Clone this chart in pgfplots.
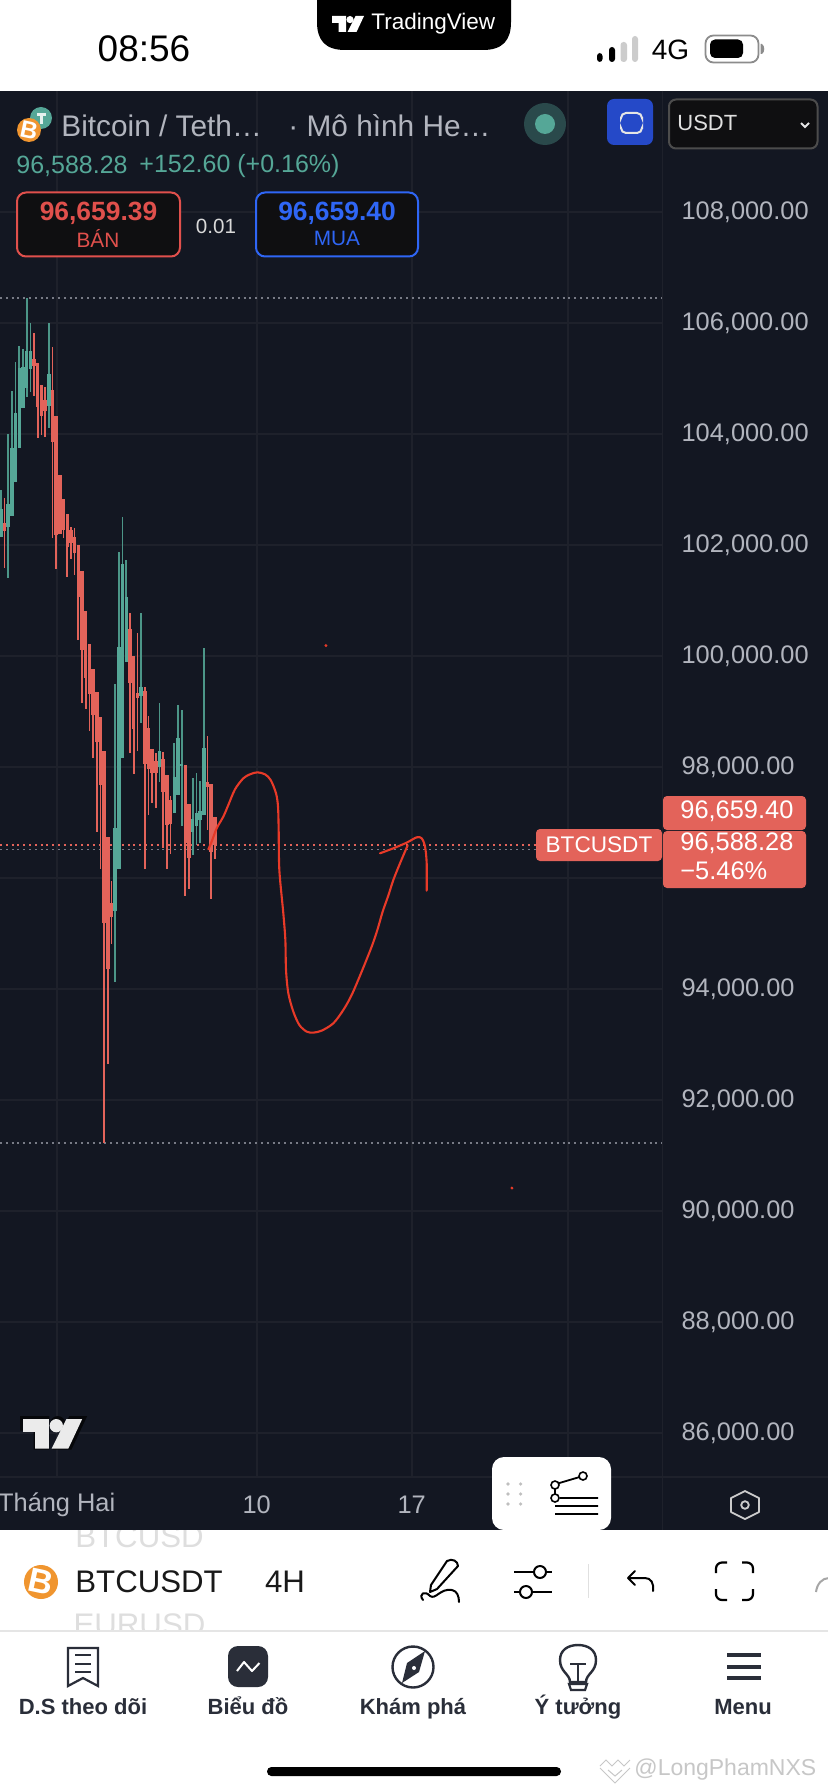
\documentclass[border=0pt]{standalone}
\usepackage{fontspec}
\setmainfont{Liberation Sans}
\usepackage{pgfplots}
\usepackage{pgfplotstable}
\pgfplotsset{compat=1.18}
\definecolor{bg}{HTML}{131722}
\definecolor{gridc}{HTML}{1E212B}
\definecolor{cgreen}{HTML}{55A797}
\definecolor{cred}{HTML}{E3635A}
\definecolor{scrib}{HTML}{E83A28}
\definecolor{axtxt}{HTML}{B2B5BE}
\definecolor{dotgrey}{HTML}{787B86}
\definecolor{ink}{HTML}{2A2E39}
\definecolor{boxbk}{HTML}{0F0F11}
\definecolor{sellc}{HTML}{E0504C}
\definecolor{buyc}{HTML}{2F66F5}
\definecolor{orangec}{HTML}{F0952F}
\definecolor{ghost}{HTML}{DEDEDE}
\definecolor{btnblue}{HTML}{2549C8}

% x = candle number (4H), prices in USDT
\pgfplotstableread{
x o h l c
0 102149 102996 102149 102654
2 102330 104005 101411 102744
3 102528 104780 102528 103753
4 103140 105303 103140 104384
5 103753 105591 103753 105194
6 104474 105537 104474 105212
7 104834 106461 104672 105501
8 105176 106005 104762 105501
13 104510 106005 104113 105086
31 95411 99501 94131 96906
32 96167 101879 96167 100167
33 98167 102510 98167 101663
34 99897 101735 99897 101068
38 99284 100780 98798 99447
43 98005 99158 97735 98293
47 97176 98438 97176 97825
48 97501 99122 97501 98528
49 98023 99032 96942 98059
52 96834 97807 96420 97068
53 96942 97897 96600 97176
54 97050 97753 96636 97212
55 97140 100149 97140 98348
}\upcandles
\pgfplotstableread{
x o h l c
1 102402 102852 101591 102258
9 105357 105825 104690 105230
10 105285 105285 103933 104492
11 104888 104888 103987 104330
12 104618 104852 103951 104420
14 104798 105573 102131 103861
15 104330 104330 101573 102185
16 103267 103267 102203 102203
17 102834 102834 102131 102276
18 102564 102564 101429 101969
19 102276 102330 101753 102041
20 102149 102312 101465 101861
21 102005 102005 100293 101068
22 101537 101537 99158 100113
23 100816 100816 99050 99609
24 100221 100221 98654 99321
25 99771 99771 98167 98942
26 99357 99357 96834 98456
27 98906 98906 96167 97681
28 98293 98293 91236 95194
29 96744 96744 92654 94366
30 95555 95951 94816 95302
35 100492 100780 98257 99519
36 100005 100005 97879 98690
37 99339 100420 98293 99249
39 99375 99447 96167 98059
40 98708 98924 97140 97969
41 98330 98330 97357 97897
42 98113 98257 97266 97897
44 98149 98275 96546 97555
45 97861 97861 96167 96960
46 97411 97483 96438 96978
50 98041 98041 95681 96636
51 97339 97339 95807 96366
56 97735 98564 96870 97645
57 97699 97699 95627 96474
58 97104 97104 96348 96600
}\downcandles

\newcommand{\T}[5][west]{\node[anchor=#1,inner sep=0pt,text=#3,font=\fontsize{#2}{#2}\selectfont] at (#4) {#5};}
\newcommand{\TVlogo}[3]{% x, y top-left ; size handled through scope
\begin{scope}[shift={(#1)},xscale=#2,yscale=#2]
\fill[#3] (0,0)--(14,0)--(14,16)--(6.5,16)--(6.5,7)--(0,7)--cycle;
\fill[#3] (18,3.6) circle (3.6);
\fill[#3] (23.5,0)--(32,0)--(24.5,16)--(15.5,16)--cycle;
\end{scope}}
\newcommand{\BTC}[3]{% x,y, r
\fill[orangec] (#1,#2) circle (#3);
\node[rotate=-12,inner sep=0pt,text=white,font=\bfseries\fontsize{#3}{#3}\selectfont] at (#1,#2) {B};}

\begin{document}
\begin{tikzpicture}
\path[use as bounding box] (0pt,0pt) rectangle (414pt,-896pt);
\begin{scope}[x=0.5pt,y=-0.5pt]
\fill[white] (0,0) rectangle (828,1792);
\fill[bg] (0,91) rectangle (828,1530);
\end{scope}

\begin{axis}[
  at={(0pt,-738.5pt)}, anchor=south west,
  scale only axis, width=331.25pt, height=693pt,
  xmin=-0.226, xmax=179.3, ymin=85212, ymax=110185,
  axis line style={draw=gridc,line width=0.8pt},
  axis x line*=bottom, axis y line*=right,
  xtick={15.14,69.34,111.35,153.6},
  xticklabels={Tháng Hai,10,17,{}},
  ytick={86000,88000,90000,92000,94000,96000,98000,100000,102000,104000,106000,108000},
  yticklabels={{86,000.00},{88,000.00},{90,000.00},{92,000.00},{94,000.00},{},{98,000.00},{100,000.00},{102,000.00},{104,000.00},{106,000.00},{108,000.00}},
  scaled y ticks=false,
  major tick length=0pt,
  grid=major, major grid style={gridc,line width=0.9pt},
  tick label style={text=axtxt,font=\fontsize{12.7}{14}\selectfont},
  xticklabel style={anchor=center,yshift=-14pt},
  yticklabel style={anchor=west,xshift=6pt},
  clip=true,
]
\addplot[dotgrey,line width=0.85pt,dash pattern=on 1pt off 1.9pt] coordinates {(-0.226,106461)(179.3,106461)};
\addplot[dotgrey,line width=0.85pt,dash pattern=on 1pt off 1.9pt] coordinates {(-0.226,91236)(179.3,91236)};
\addplot[dotgrey,line width=0.85pt,dash pattern=on 1pt off 1.9pt] coordinates {(-0.226,96516)(145,96516)};
\addplot[cred,line width=0.85pt,dash pattern=on 1pt off 1.9pt] coordinates {(-0.226,96594)(145,96594)};

\addplot[draw=none,mark=none,error bars/.cd,y dir=plus,y explicit,error mark=none,
  error bar style={draw=cgreen!90!black,line width=0.85pt}]
  table[x=x,y=l,y error plus expr=\thisrow{h}-\thisrow{l}] {\upcandles};
\addplot[draw=none,mark=none,error bars/.cd,y dir=plus,y explicit,error mark=none,
  error bar style={draw=cred,line width=0.85pt}]
  table[x=x,y=l,y error plus expr=\thisrow{h}-\thisrow{l}] {\downcandles};
\addplot[draw=none,mark=none,error bars/.cd,y dir=plus,y explicit,error mark=none,
  error bar style={draw=cgreen,line width=1.75pt}]
  table[x=x,y=o,y error plus expr=\thisrow{c}-\thisrow{o}] {\upcandles};
\addplot[draw=none,mark=none,error bars/.cd,y dir=plus,y explicit,error mark=none,
  error bar style={draw=cred,line width=1.75pt}]
  table[x=x,y=c,y error plus expr=\thisrow{o}-\thisrow{c}] {\downcandles};

\addplot[scrib,line width=1.05pt,smooth,line cap=round] coordinates {
(56.23,96522)(57.13,96660)(58.49,96900)(60.29,97111)(61.65,97321)(63.46,97603)(65.71,97801)(67.52,97873)
(69.51,97909)(71.59,97873)(73.12,97771)(74.57,97531)(75.11,97291)(75.29,96870)(75.47,96150)(76.55,95369)
(77.10,94888)(77.28,94348)(77.91,93928)(79.26,93597)(80.89,93357)(82.88,93237)(84.68,93219)(86.94,93255)
(90.10,93387)(92.81,93627)(95.07,93897)(97.78,94318)(100.49,94768)(102.03,95068)(103.47,95399)(105.01,95690)
(106.36,95969)(108.17,96270)(110.25,96594)};
\addplot[scrib,line width=1.05pt,smooth,line cap=round] coordinates {
(102.75,96450)(106.36,96540)(109.98,96642)(112.69,96738)(114.04,96720)(114.95,96570)(115.40,96270)(115.40,95777)};
\addplot[only marks,mark=*,mark size=0.5pt,scrib] coordinates {(88.1,100193)(138.5,90419)};
\end{axis}

\begin{scope}[x=0.5pt,y=-0.5pt]
% separators
\draw[gridc,line width=0.8pt] (662.5,91)--(662.5,1530);
\draw[gridc,line width=0.8pt] (0,1477)--(828,1477);

% --- status bar
\T[center]{18.5}{black}{144,49}{08:56}
\fill[black] (317,-2) -- (317,22) .. controls (317,40) and (325,50) .. (345,50) -- (483,50) .. controls (503,50) and (511,40) .. (511,22) -- (511,-2) -- cycle;
\TVlogo{332,16}{1}{white}
\T[west]{11.25}{white}{371,24}{TradingView}
\fill[black,rounded corners=1.5pt] (597,53) rectangle (602.5,62);
\fill[black,rounded corners=1.5pt] (609,47) rectangle (615,62);
\fill[black!20,rounded corners=1.5pt] (620.5,42) rectangle (627,62);
\fill[black!20,rounded corners=1.5pt] (632,36) rectangle (638,62);
\T[center]{14}{black}{670.5,50}{4G}
\draw[black!45,line width=0.9pt,rounded corners=4pt] (705.5,35.5) rectangle (758.5,62.5);
\fill[black,rounded corners=2.5pt] (710,39.5) rectangle (743,58);
\fill[black!45] (760.5,44) -- (762,44) .. controls (765,46) and (765,52) .. (762,54) -- (760.5,54) -- cycle;

% --- legend
\fill[cgreen] (41,118) circle (11);
\fill[white,opacity=.85] (37,113) rectangle (46,116);
\fill[white,opacity=.85] (40,116) rectangle (43,124);
\BTC{29}{130}{12}
\T[west]{14.9}{axtxt}{61,126}{Bitcoin / Teth…}
\T[west]{14.9}{axtxt}{288,126}{· Mô hình He…}
\fill[cgreen!35!bg] (545,124) circle (21);
\fill[cgreen] (545,124) circle (10);
\fill[btnblue,rounded corners=3.5pt] (607,99) rectangle (653,145);
\draw[white!90!black,line width=1pt,rounded corners=2.5pt] (621,117) -- (621,113) -- (642,113) -- (642,117);
\draw[white!90!black,line width=1pt,rounded corners=2.5pt] (621,129) -- (621,133) -- (642,133) -- (642,129);
\fill[boxbk,draw=black!70!white,line width=1pt,rounded corners=3.5pt] (669,99.5) rectangle (817.5,148.5);
\T[west]{11}{white!88!black}{677,123}{USDT}
\draw[white!90!black,line width=0.9pt] (801,123) -- (805,127) -- (809,123);

\T[west]{12.5}{cgreen}{16,166}{96,588.28}
\T[west]{12.5}{cgreen}{139,166}{+152.60 (+0.16\%)}

\fill[boxbk,draw=sellc,line width=1pt,rounded corners=4.5pt] (17,192.5) rectangle (180,256.5);
\T[center]{13.2}{sellc}{98.5,213}{\bfseries 96,659.39}
\T[center]{10.4}{sellc}{98,238}{BÁN}
\T[center]{10.3}{white!85!black}{216,226}{0.01}
\fill[boxbk,draw=buyc,line width=1pt,rounded corners=4.5pt] (256,192.5) rectangle (418,256.5);
\T[center]{13.2}{buyc}{337,213}{\bfseries 96,659.40}
\T[center]{10.4}{buyc}{337,238}{MUA}

% --- price tags
\fill[cred,rounded corners=2pt] (663,796) rectangle (806,830);
\fill[cred,rounded corners=2pt] (663,831) rectangle (806,888);
\fill[cred,rounded corners=2pt] (536,829) rectangle (662,861);
\T[west]{12.7}{white}{680,811}{96,659.40}
\T[west]{12.7}{white}{680,843}{96,588.28}
\T[west]{12.7}{white}{680,871}{−5.46\%}
\T[center]{11.3}{white}{599,845}{BTCUSDT}

% --- watermark logo
\TVlogo{20,1416}{2.1}{black!70!bg}
\TVlogo{23,1419}{1.85}{white!92!black}

% --- drawing widget
\fill[white,rounded corners=6pt] (492,1457) rectangle (611,1530);
\foreach \yy in {1484,1494,1504}{\fill[black!25] (508,\yy) circle (1.8); \fill[black!25] (520.6,\yy) circle (1.8);}
\draw[black,line width=0.9pt] (556,1484)--(583,1476) (555,1489)--(555,1494) (560,1498)--(598,1498) (555,1506)--(598,1506) (555,1514)--(598,1514);
\draw[black,line width=0.8pt,fill=white] (555,1485) circle (4) (583,1476) circle (4) (555,1498) circle (4);
% hexagon
\draw[white!80!black,line width=0.9pt,line join=round] (745,1491)--(759,1498)--(759,1512)--(745,1519)--(731,1512)--(731,1498)--cycle;
\draw[white!80!black,line width=0.9pt] (745,1505) circle (3.8);

% --- toolbar
\begin{scope}
\clip (0,1530) rectangle (828,1631);
\T[center]{15.6}{ghost}{139.5,1537}{BTCUSD}
\T[center]{15.6}{ghost}{139.5,1625}{EURUSD}
\end{scope}
\draw[black!10,line width=0.6pt] (0,1631)--(828,1631);
\BTC{41}{1582}{17}
\T[west]{15.6}{black!90}{75,1582}{BTCUSDT}
\T[center]{15.6}{black!90}{285,1582}{4H}
% pen
\draw[black,line width=1pt,line join=round] (447,1561) -- (431,1585) -- (430,1592) -- (437,1589) -- (458,1566) .. controls (458,1561) and (452,1558) .. (447,1561) -- cycle;
\draw[black,line width=1pt,line cap=round] (423,1600) .. controls (418,1594) and (425,1590) .. (430,1596) .. controls (436,1600) and (440,1588) .. (452,1590) .. controls (457,1591) and (459,1596) .. (459,1602);
% sliders
\draw[black,line width=1pt] (514,1572)--(552,1572) (514,1592)--(552,1592);
\draw[black,line width=1pt,fill=white] (540,1572) circle (6) (526,1592) circle (6);
\draw[black!12,line width=0.5pt] (588,1564)--(588,1598);
% undo
\draw[black,line width=1pt,line cap=round,line join=round] (635,1571)--(628,1578)--(635,1585) (628,1578)--(645,1578) .. controls (651,1578) and (654,1583) .. (653,1591);
% fullscreen corners
\draw[black,line width=1.1pt,rounded corners=3pt] (716,1573)--(716,1562.5)--(727,1562.5) (742,1562.5)--(753,1562.5)--(753,1573) (716,1589)--(716,1600)--(727,1600) (742,1600)--(753,1600)--(753,1589);
\draw[black!35,line width=1pt] (829,1578) .. controls (822,1578) and (817,1584) .. (816,1592);

% --- tab bar
\draw[ink,line width=1.1pt,line join=miter] (68,1686)--(68,1648)--(98,1648)--(98,1686)--(83,1678)--cycle;
\draw[ink,line width=1.1pt] (75,1655)--(91,1655) (75,1664)--(91,1664) (75,1672)--(91,1672);
\fill[ink,rounded corners=5pt] (228,1646) rectangle (268,1687);
\draw[white,line width=1pt,line join=round] (237,1671)--(244,1662)--(252,1671)--(259.5,1663);
\draw[ink,line width=1.2pt] (413,1667) circle (20.5);
\fill[ink] (425,1651)--(419,1672)--(402,1683)--(407,1663)--cycle;
\fill[white] (414,1668) circle (2);
\draw[ink,line width=1.2pt] (570,1682) .. controls (570,1674) and (560,1672) .. (560,1660) .. controls (560,1650) and (568,1645) .. (578,1645) .. controls (588,1645) and (596,1650) .. (596,1660) .. controls (596,1672) and (586,1674) .. (586,1682) -- cycle;
\draw[ink,line width=1.1pt] (570,1664)--(586,1664) (578,1664)--(578,1682);
\draw[ink,line width=1.1pt] (569,1684)--(587,1684)--(585,1690)--(571,1690)--cycle;
\draw[ink,line width=2pt] (727,1655)--(761,1655) (727,1667)--(761,1667) (727,1678)--(761,1678);
\T[base]{11}{ink}{83,1714.5}{\bfseries D.S theo dõi}
\T[base]{11}{ink}{248,1714.5}{\bfseries Biểu đồ}
\T[base]{11}{ink}{413,1714.5}{\bfseries Khám phá}
\T[base]{11}{ink}{578,1714.5}{\bfseries Ý tưởng}
\T[base]{11}{ink}{743,1714.5}{\bfseries Menu}

% --- home indicator and watermark text
\fill[black,rounded corners=2.2pt] (267,1767) rectangle (561,1776);
\draw[black!22,line width=0.5pt] (600,1766)--(606,1760)--(612,1766)--(618,1760)--(624,1766)--(630,1760) (600,1768)--(615,1783)--(630,1768) (608,1770)--(615,1776)--(622,1770);
\T[west]{11.5}{black!22}{634,1770}{@LongPhamNXS}
\end{scope}
\end{tikzpicture}
\end{document}
